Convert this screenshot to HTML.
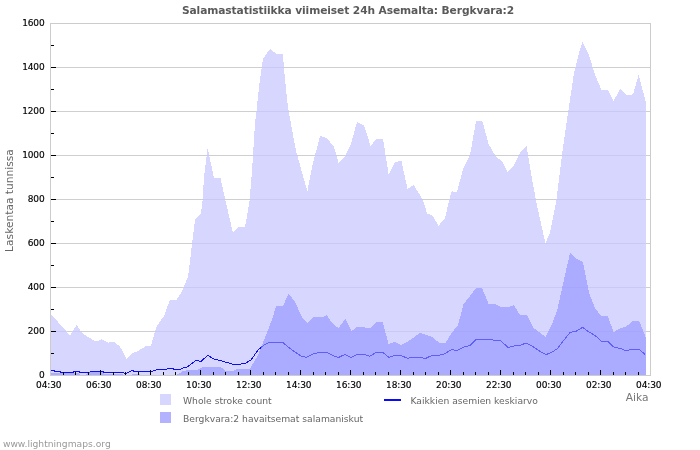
<!DOCTYPE html>
<html><head><meta charset="utf-8"><title>Salamastatistiikka</title>
<style>
html,body{margin:0;padding:0;background:#fff;}
body{width:700px;height:450px;overflow:hidden;}
svg{display:block;}
text{font-family:"DejaVu Sans","Liberation Sans",sans-serif;}
.tk{font-size:9px;fill:#000;letter-spacing:-0.15px;stroke:#000;stroke-width:0.15px;}
.lg{font-size:9.2px;fill:#666;}
</style></head><body>
<svg width="700" height="450" viewBox="0 0 700 450">
<rect width="700" height="450" fill="#fff"/>

<g shape-rendering="crispEdges" stroke="#cfcfcf" stroke-width="1">
<line x1="51" y1="23.5" x2="650" y2="23.5"/>
<line x1="51" y1="67.5" x2="650" y2="67.5"/>
<line x1="51" y1="111.5" x2="650" y2="111.5"/>
<line x1="51" y1="155.5" x2="650" y2="155.5"/>
<line x1="51" y1="199.5" x2="650" y2="199.5"/>
<line x1="51" y1="243.5" x2="650" y2="243.5"/>
<line x1="51" y1="287.5" x2="650" y2="287.5"/>
<line x1="51" y1="331.5" x2="650" y2="331.5"/>
</g>
<g shape-rendering="crispEdges"><polygon fill="#d6d6ff" points="50,313 70,335.4 76.6,325 83,334 96,341.6 101.4,339.4 108,342.6 114,342 120,346.6 126.6,359 132,353 138,351 146,346 151,345.6 156,328 159,323 164,316 170,299.6 176.6,299.6 181,293 188,277 195,220 201,213 202.4,203 204,177 207.6,148 214,178 220.4,178 226,203 233,233 238,227 245,227 249.3,203 252,171 255,123 256.3,113 259,87 263,59 267,53 270.6,49 276.4,54 283,54 284,69 287,99 289,113 296,151 307.4,191.4 312,167 320,136 327,138 334,147 338.6,163 345,156 351,144 357,122 364,125.4 370.6,146 376,139 383,139 388.6,174.4 395,162 401.4,161 407.6,189 413.6,185 420,195 424,203 427,213.4 433,216 438.4,226 445,218 448.5,203 451.6,191.4 457,192 463,169 470,155 476,121.4 482.4,121.4 488.6,144 496,157 502,161 507.4,172 514,165 520,153 526.6,146 532,179 536.5,203 545.4,243 550,233 556,203 562,155 568,113 574,73 579,53 582.6,42 589,55 595,75 601.6,90 608,90 613.6,101 620,89 627,95 633,94.4 638.6,75 645.6,101 645.6,376 50,376"/></g>
<clipPath id="cp"><polygon points="50,313 70,335.4 76.6,325 83,334 96,341.6 101.4,339.4 108,342.6 114,342 120,346.6 126.6,359 132,353 138,351 146,346 151,345.6 156,328 159,323 164,316 170,299.6 176.6,299.6 181,293 188,277 195,220 201,213 202.4,203 204,177 207.6,148 214,178 220.4,178 226,203 233,233 238,227 245,227 249.3,203 252,171 255,123 256.3,113 259,87 263,59 267,53 270.6,49 276.4,54 283,54 284,69 287,99 289,113 296,151 307.4,191.4 312,167 320,136 327,138 334,147 338.6,163 345,156 351,144 357,122 364,125.4 370.6,146 376,139 383,139 388.6,174.4 395,162 401.4,161 407.6,189 413.6,185 420,195 424,203 427,213.4 433,216 438.4,226 445,218 448.5,203 451.6,191.4 457,192 463,169 470,155 476,121.4 482.4,121.4 488.6,144 496,157 502,161 507.4,172 514,165 520,153 526.6,146 532,179 536.5,203 545.4,243 550,233 556,203 562,155 568,113 574,73 579,53 582.6,42 589,55 595,75 601.6,90 608,90 613.6,101 620,89 627,95 633,94.4 638.6,75 645.6,101 645.6,376 50,376"/></clipPath>
<g clip-path="url(#cp)" shape-rendering="crispEdges" stroke="#5050a0" stroke-opacity="0.09" stroke-width="1">
<line x1="51" y1="67.5" x2="646" y2="67.5"/>
<line x1="51" y1="111.5" x2="646" y2="111.5"/>
<line x1="51" y1="155.5" x2="646" y2="155.5"/>
<line x1="51" y1="199.5" x2="646" y2="199.5"/>
<line x1="51" y1="243.5" x2="646" y2="243.5"/>
<line x1="51" y1="287.5" x2="646" y2="287.5"/>
<line x1="51" y1="331.5" x2="646" y2="331.5"/>
</g>
<polyline shape-rendering="crispEdges" fill="none" stroke="#0c0cf5" stroke-width="1" points="50,370.5 54,370.5 55,371.5 60,371.5 61,372.5 73,372.5 74,371.5 79,371.5 80,372.5 87,372.5 94,371.5 103,371.5 104,372.5 123,372.5 125,373.8 132,370.5 135,371.5 152,371.5 157,369.5 166,369.5 168,368.5 173,368.5 174,369.5 180,369.5 182,368.4 187,367 196,360.4 201,361.4 207.6,355.4 214,359 220,360.4 232,364 239,364.4 245,363.4 251,360 258,350 264,345 270,342 282.4,342 288,347 295,352 301,356 306,357.4 313,354 320,352.2 326,352.2 333,355.6 338.6,357.4 345,354.4 351,357.4 357,354.4 364,354.4 370,356.2 376.6,352.2 382.6,352.2 389,357.4 395,355.4 401,355.4 407.6,358.4 412,357.4 420,357.4 425.6,358.4 432,355.4 438,355.4 444,354 452,349.4 456.6,350.6 464,347 470,345.6 476,339.4 491,339.4 495,340.6 501,341 508,347.4 514,346 520,345.4 526,343 533,346.6 540,351.4 546,354.6 552,352.2 557.4,348.6 564,340 570,332.6 576.6,331 582.6,327.4 589,332 595,335.4 601,341 607.4,341 613.6,347 620,348.4 626,350.6 632,349.4 639,349.4 645.4,354.6"/>
<polygon shape-rendering="crispEdges" fill="#9191ff" fill-opacity="0.62" points="50,372.5 78,372.5 80,375 86,375 88,372 102,372 104,373.5 115,374 131,375 132,374 139,374 140,375 176,375 184,370.6 197,370 202,367.4 220,366.6 226,371 233,371 238,368.6 250,368.6 258,355 266,335 273,317 276,306 283,306 288.6,293.6 295,302 302,317 307.6,323 313.6,316.6 323,317 326.6,315 333,324 338.6,328 345.4,319 351.6,331 357.6,326.6 364,327.4 370,328 376.6,322.4 383,322.4 385,331 388.6,344 395,342 401.4,345 408,341.4 420,333 432,337 439.4,343 445.6,343 451,334 458,325 463.6,304 470,296 476,288 482,288 488.6,304 495,304 501,307 509,307 514,305 520,315 527,315 533,327.4 539,332 545.6,337 552,324 557,311 561,293 570,253 577,259 583,262 589,293 595,308 601,316 607.6,316 613.6,332 620,328.6 626,326.6 633,321 639,320.6 645.6,337 645.6,376 50,376"/>
<g shape-rendering="crispEdges" stroke="#cccccc" stroke-width="1" fill="none">
<line x1="50.5" y1="23" x2="50.5" y2="376"/><line x1="650.5" y1="23" x2="650.5" y2="376"/><line x1="50" y1="375.5" x2="651" y2="375.5"/><line x1="50" y1="23.5" x2="651" y2="23.5"/>
</g>
<g shape-rendering="crispEdges" stroke="#000" stroke-width="1">
<line x1="51" y1="45.5" x2="54" y2="45.5"/>
<line x1="51" y1="67.5" x2="56" y2="67.5"/>
<line x1="51" y1="89.5" x2="54" y2="89.5"/>
<line x1="51" y1="111.5" x2="56" y2="111.5"/>
<line x1="51" y1="133.5" x2="54" y2="133.5"/>
<line x1="51" y1="155.5" x2="56" y2="155.5"/>
<line x1="51" y1="177.5" x2="54" y2="177.5"/>
<line x1="51" y1="199.5" x2="56" y2="199.5"/>
<line x1="51" y1="221.5" x2="54" y2="221.5"/>
<line x1="51" y1="243.5" x2="56" y2="243.5"/>
<line x1="51" y1="265.5" x2="54" y2="265.5"/>
<line x1="51" y1="287.5" x2="56" y2="287.5"/>
<line x1="51" y1="309.5" x2="54" y2="309.5"/>
<line x1="51" y1="331.5" x2="56" y2="331.5"/>
<line x1="51" y1="353.5" x2="54" y2="353.5"/>
<line x1="63.5" y1="372" x2="63.5" y2="375"/>
<line x1="75.5" y1="372" x2="75.5" y2="375"/>
<line x1="88.5" y1="372" x2="88.5" y2="375"/>
<line x1="100.5" y1="370" x2="100.5" y2="375"/>
<line x1="113.5" y1="372" x2="113.5" y2="375"/>
<line x1="125.5" y1="372" x2="125.5" y2="375"/>
<line x1="138.5" y1="372" x2="138.5" y2="375"/>
<line x1="150.5" y1="370" x2="150.5" y2="375"/>
<line x1="163.5" y1="372" x2="163.5" y2="375"/>
<line x1="175.5" y1="372" x2="175.5" y2="375"/>
<line x1="188.5" y1="372" x2="188.5" y2="375"/>
<line x1="200.5" y1="370" x2="200.5" y2="375"/>
<line x1="213.5" y1="372" x2="213.5" y2="375"/>
<line x1="225.5" y1="372" x2="225.5" y2="375"/>
<line x1="238.5" y1="372" x2="238.5" y2="375"/>
<line x1="250.5" y1="370" x2="250.5" y2="375"/>
<line x1="263.5" y1="372" x2="263.5" y2="375"/>
<line x1="275.5" y1="372" x2="275.5" y2="375"/>
<line x1="288.5" y1="372" x2="288.5" y2="375"/>
<line x1="300.5" y1="370" x2="300.5" y2="375"/>
<line x1="313.5" y1="372" x2="313.5" y2="375"/>
<line x1="325.5" y1="372" x2="325.5" y2="375"/>
<line x1="338.5" y1="372" x2="338.5" y2="375"/>
<line x1="350.5" y1="370" x2="350.5" y2="375"/>
<line x1="363.5" y1="372" x2="363.5" y2="375"/>
<line x1="375.5" y1="372" x2="375.5" y2="375"/>
<line x1="388.5" y1="372" x2="388.5" y2="375"/>
<line x1="400.5" y1="370" x2="400.5" y2="375"/>
<line x1="413.5" y1="372" x2="413.5" y2="375"/>
<line x1="425.5" y1="372" x2="425.5" y2="375"/>
<line x1="438.5" y1="372" x2="438.5" y2="375"/>
<line x1="450.5" y1="370" x2="450.5" y2="375"/>
<line x1="463.5" y1="372" x2="463.5" y2="375"/>
<line x1="475.5" y1="372" x2="475.5" y2="375"/>
<line x1="488.5" y1="372" x2="488.5" y2="375"/>
<line x1="500.5" y1="370" x2="500.5" y2="375"/>
<line x1="513.5" y1="372" x2="513.5" y2="375"/>
<line x1="525.5" y1="372" x2="525.5" y2="375"/>
<line x1="538.5" y1="372" x2="538.5" y2="375"/>
<line x1="550.5" y1="370" x2="550.5" y2="375"/>
<line x1="563.5" y1="372" x2="563.5" y2="375"/>
<line x1="575.5" y1="372" x2="575.5" y2="375"/>
<line x1="588.5" y1="372" x2="588.5" y2="375"/>
<line x1="600.5" y1="370" x2="600.5" y2="375"/>
<line x1="613.5" y1="372" x2="613.5" y2="375"/>
<line x1="625.5" y1="372" x2="625.5" y2="375"/>
<line x1="638.5" y1="372" x2="638.5" y2="375"/>
</g>
<text class="tk" x="44.5" y="25.9" text-anchor="end">1600</text>
<text class="tk" x="44.5" y="69.9" text-anchor="end">1400</text>
<text class="tk" x="44.5" y="113.9" text-anchor="end">1200</text>
<text class="tk" x="44.5" y="157.9" text-anchor="end">1000</text>
<text class="tk" x="44.5" y="201.9" text-anchor="end">800</text>
<text class="tk" x="44.5" y="245.9" text-anchor="end">600</text>
<text class="tk" x="44.5" y="289.9" text-anchor="end">400</text>
<text class="tk" x="44.5" y="333.9" text-anchor="end">200</text>
<text class="tk" x="44.5" y="377.9" text-anchor="end">0</text>
<text class="tk" x="48.7" y="388" text-anchor="middle">04:30</text>
<text class="tk" x="98.7" y="388" text-anchor="middle">06:30</text>
<text class="tk" x="148.7" y="388" text-anchor="middle">08:30</text>
<text class="tk" x="198.7" y="388" text-anchor="middle">10:30</text>
<text class="tk" x="248.7" y="388" text-anchor="middle">12:30</text>
<text class="tk" x="298.7" y="388" text-anchor="middle">14:30</text>
<text class="tk" x="348.7" y="388" text-anchor="middle">16:30</text>
<text class="tk" x="398.7" y="388" text-anchor="middle">18:30</text>
<text class="tk" x="448.7" y="388" text-anchor="middle">20:30</text>
<text class="tk" x="498.7" y="388" text-anchor="middle">22:30</text>
<text class="tk" x="548.7" y="388" text-anchor="middle">00:30</text>
<text class="tk" x="598.7" y="388" text-anchor="middle">02:30</text>
<text class="tk" x="648.7" y="388" text-anchor="middle">04:30</text>
<text x="348" y="13.5" text-anchor="middle" font-size="10.67px" letter-spacing="-0.1" font-weight="bold" fill="#5a5a5a">Salamastatistiikka viimeiset 24h Asemalta: Bergkvara:2</text>
<text transform="translate(13,200.5) rotate(-90)" text-anchor="middle" font-size="10.67px" fill="#666">Laskentaa tunnissa</text>
<text x="648.5" y="400.5" text-anchor="end" font-size="10.67px" fill="#777">Aika</text>
<rect x="160" y="394" width="11" height="11" fill="#d6d6ff" shape-rendering="crispEdges"/>
<rect x="160" y="412" width="11" height="11" fill="#b2b2ff" shape-rendering="crispEdges"/>
<text class="lg" x="183" y="404">Whole stroke count</text>
<text class="lg" x="183" y="422">Bergkvara:2 havaitsemat salamaniskut</text>
<line x1="384" y1="400" x2="401" y2="400" stroke="#0a0aff" stroke-width="2" shape-rendering="crispEdges"/>
<text class="lg" x="410.5" y="404">Kaikkien asemien keskiarvo</text>
<text x="2.9" y="446.5" font-size="9.17px" fill="#999">www.lightningmaps.org</text>
</svg></body></html>
